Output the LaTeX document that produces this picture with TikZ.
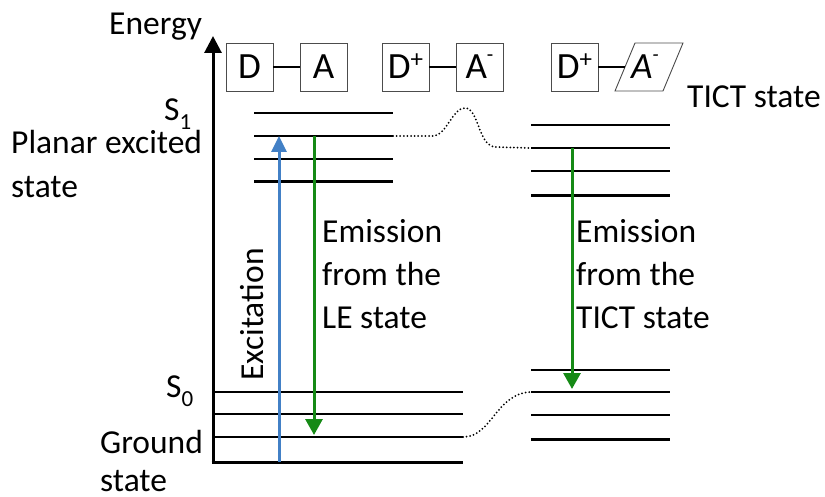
\documentclass[tikz,border=0pt]{standalone}
\usepackage{fontspec}
\setmainfont{Carlito}
\usetikzlibrary{arrows.meta}

\definecolor{excblue}{RGB}{66,128,198}
\definecolor{emgreen}{RGB}{22,138,22}

\tikzset{
  lbl/.style={font=\fontsize{33.5}{38}\selectfont, inner sep=0pt},
  lvl/.style={line width=2pt},
  lvlthick/.style={line width=3pt},
  mol/.style={draw=black!70, line width=0.9pt, minimum width=47pt, minimum height=48pt,
              inner sep=0pt, font=\fontsize{37}{37}\selectfont},
  bond/.style={line width=1.2pt},
  linkdots/.style={line width=2pt, line cap=round, dash pattern=on 0pt off 3.6pt},
  axisline/.style={line width=3pt},
  exarrow/.style={excblue, line width=3pt, -{Triangle[width=15pt,length=16pt]}},
  emarrow/.style={emgreen, line width=3pt, -{Triangle[width=17pt,length=16pt]}},
}

\newcommand{\supplus}{\smash{\raisebox{11pt}{\fontsize{25}{25}\selectfont +}}}
\newcommand{\supminus}{\smash{\raisebox{17pt}{\fontsize{21}{21}\selectfont -}}}
\newcommand{\stsub}[1]{\raisebox{-9pt}{\fontsize{23}{23}\selectfont #1}}

\begin{document}
\begin{tikzpicture}[x=1pt,y=-1pt]
  \useasboundingbox (0,0) rectangle (825,497);

  % energy axis and baseline
  \coordinate (axbot) at (213,463);
  \coordinate (axtop) at (213,36);
  \coordinate (axright) at (463,462);
  \draw[axisline, -{Triangle[width=17pt,length=17pt]}] (axbot) -- (axtop);
  \draw[axisline] (211.5,462) -- (axright);
  \node[lbl, anchor=base west] (energy) at (109,35) {Energy};

  % molecule sketches
  \node[mol] (d1) at (249.5,67) {D};
  \node[mol] (a1) at (323.5,67) {A};
  \draw[bond] (d1) -- (a1);
  \node[mol] (d2) at (405.5,67) {D\supplus};
  \node[mol] (a2) at (479.5,67) {A\supminus};
  \draw[bond] (d2) -- (a2);
  \node[mol] (d3) at (574.5,67) {D\supplus};
  \draw[draw=black!70, line width=0.9pt] (615,91) -- (635,43) -- (683,43) -- (663,91) -- cycle;
  \coordinate (a3in) at (625,67);
  \node[inner sep=0pt, font=\fontsize{37}{37}\selectfont] (a3) at (645,67) {\itshape A\supminus};
  \draw[bond] (d3) -- (a3in);

  % planar excited state S1 levels
  \foreach \yy in {113,136,159} \draw[lvl] (254,\yy) -- (393,\yy);
  \draw[lvlthick] (254,182) -- (393,182);
  % TICT excited levels
  \foreach \yy in {125,148,171} \draw[lvl] (531,\yy) -- (670,\yy);
  \draw[lvlthick] (531,196) -- (670,196);
  % ground state S0 levels
  \foreach \yy in {392,414,437} \draw[lvl] (213,\yy) -- (463,\yy);
  % TICT ground levels
  \foreach \yy in {370,392,415} \draw[lvl] (531,\yy) -- (670,\yy);
  \draw[lvlthick] (531,439) -- (670,439);

  % level end points joined by dotted paths
  \coordinate (les) at (393,136);
  \coordinate (tes) at (531,148);
  \coordinate (lgs) at (463,437);
  \coordinate (tgs) at (531,392);
  \draw[linkdots] (les) -- (432,136) .. controls (447,136) and (452,108) .. (465,108)
        .. controls (479,108) and (478,147) .. (496,147) -- (tes);
  \draw[linkdots] (lgs) .. controls (492,437) and (496,393) .. (tgs);

  % transitions
  \coordinate (exfrom) at (279,462);
  \coordinate (exto) at (279,136);
  \draw[exarrow] (exfrom) -- (exto);
  \coordinate (lefrom) at (314,136);
  \coordinate (leto) at (314,435);
  \draw[emarrow] (lefrom) -- (leto);
  \coordinate (tfrom) at (572,148);
  \coordinate (tto) at (572,389);
  \draw[emarrow] (tfrom) -- (tto);

  % labels
  \node[lbl, rotate=90, anchor=base west] (exc) at (263,381) {Excitation};
  \node[lbl, anchor=base west] (le1) at (322,243) {Emission};
  \node[lbl, anchor=base west] (le2) at (322,286) {from the};
  \node[lbl, anchor=base west] (le3) at (322,328) {LE state};
  \node[lbl, anchor=base west] (tc1) at (576,243) {Emission};
  \node[lbl, anchor=base west] (tc2) at (576,286) {from the};
  \node[lbl, anchor=base west] (tc3) at (576,328) {TICT state};
  \node[lbl, anchor=base west] (tict) at (687,108) {TICT state};

  \node[lbl, anchor=base west] (s1) at (164,121) {S\stsub{1}};
  \node[lbl, anchor=base west] (pl1) at (11,154) {Planar excited};
  \node[lbl, anchor=base west] (pl2) at (11,198) {state};
  \node[lbl, anchor=base west] (s0) at (166,397) {S\stsub{0}};
  \node[lbl, anchor=base west] (gr1) at (100,453) {Ground};
  \node[lbl, anchor=base west] (gr2) at (100,491) {state};
\end{tikzpicture}
\end{document}
